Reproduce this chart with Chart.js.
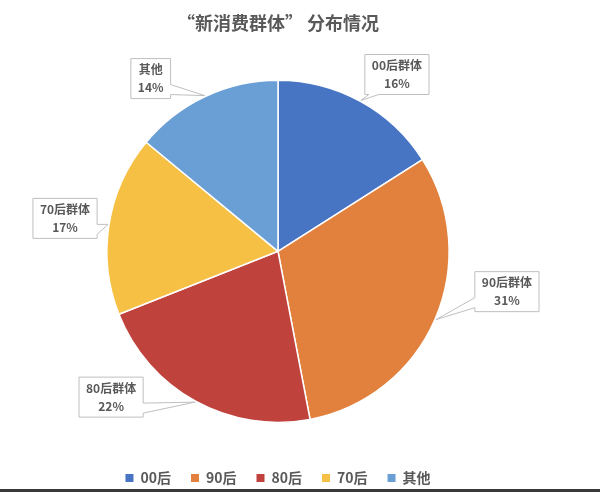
<!DOCTYPE html>
<html>
<head>
<meta charset="utf-8">
<script src="https://cdn.jsdelivr.net/npm/chart.js@4.4.1/dist/chart.umd.min.js"></script>
<style>
  html, body { margin: 0; padding: 0; background: #fff; overflow: hidden; }
  #wrap { position: absolute; left: 0; top: 0; width: 556px; height: 495px; }
  #bottomLine { position: fixed; left: 0; right: 0; bottom: 0; height: 3px; background: #3a3a3a; }
</style>
</head>
<body>
<div id="wrap"><canvas id="pieChart"></canvas></div>
<div id="bottomLine"></div>
<script>
// data
const categories = ['00后', '90后', '80后', '70后', '其他'];
const calloutNames = ['00后群体', '90后群体', '80后群体', '70后群体', '其他'];
const shares = [16, 31, 22, 17, 14];

const sliceColors = ['#4874C4', '#E2803D', '#C0423C', '#F5C043', '#6A9FD6'];
// where each callout box sits, relative to the slice's edge point
const calloutOffsets = [[36, -26], [71, -28], [-84, -5], [-43, -6], [-54, -17]];
const fontFamily = '"Noto Sans CJK SC", "Noto Sans", sans-serif';
const textGray = '#595959';

function calloutPath(ctx, l, t, w, h, px, py) {
    const r = l + w, b = t + h;
    const over = { left: l - px, right: px - r, top: t - py, bottom: py - b };
    let side = 'left';
    for (const k in over) {
        if (over[k] > over[side]) side = k;
    }
    const nearEnd = (a, lo, hi) => a > (lo + hi) / 2 ? [hi - 14, hi - 4] : [lo + 4, lo + 14];
    ctx.beginPath();
    ctx.moveTo(l, t);
    if (side === 'top') {
        const [a1, a2] = nearEnd(px, l, r);
        ctx.lineTo(a1, t); ctx.lineTo(px, py); ctx.lineTo(a2, t);
    }
    ctx.lineTo(r, t);
    if (side === 'right') {
        const [a1, a2] = nearEnd(py, t, b);
        ctx.lineTo(r, a1); ctx.lineTo(px, py); ctx.lineTo(r, a2);
    }
    ctx.lineTo(r, b);
    if (side === 'bottom') {
        const [a1, a2] = nearEnd(px, l, r);
        ctx.lineTo(a2, b); ctx.lineTo(px, py); ctx.lineTo(a1, b);
    }
    ctx.lineTo(l, b);
    if (side === 'left') {
        const [a1, a2] = nearEnd(py, t, b);
        ctx.lineTo(l, a2); ctx.lineTo(px, py); ctx.lineTo(l, a1);
    }
    ctx.closePath();
}

const calloutPlugin = {
    id: 'callouts',
    afterDatasetsDraw(chart) {
        const ctx = chart.ctx;
        const meta = chart.getDatasetMeta(0);
        const values = chart.data.datasets[0].data;
        const total = values.reduce((a, b) => a + b, 0);
        ctx.save();
        ctx.font = 'bold 12px ' + fontFamily;
        meta.data.forEach((arc, i) => {
            const p = arc.getProps(['x', 'y', 'startAngle', 'endAngle', 'outerRadius'], true);
            const mid = (p.startAngle + p.endAngle) / 2;
            const px = p.x + Math.cos(mid) * (p.outerRadius + 1);
            const py = p.y + Math.sin(mid) * (p.outerRadius + 1);
            const cx = px + calloutOffsets[i][0];
            const cy = py + calloutOffsets[i][1];
            const line1 = calloutNames[i];
            const line2 = Math.round(values[i] / total * 100) + '%';
            const w = Math.max(ctx.measureText(line1).width, ctx.measureText(line2).width) + 14;
            const h = 40;
            calloutPath(ctx, cx - w / 2, cy - h / 2, w, h, px, py);
            ctx.fillStyle = '#fff';
            ctx.fill();
            ctx.strokeStyle = '#BFBFBF';
            ctx.lineWidth = 1;
            ctx.stroke();
            ctx.fillStyle = textGray;
            ctx.textAlign = 'center';
            ctx.textBaseline = 'middle';
            ctx.fillText(line1, cx, cy - 9);
            ctx.fillText(line2, cx, cy + 9);
        });
        ctx.restore();
    }
};

var ctx = document.getElementById('pieChart').getContext('2d');
var pieChart = new Chart(ctx, {
    type: 'pie',
    data: {
        labels: categories,
        datasets: [{
            data: shares,
            backgroundColor: sliceColors,
            borderColor: '#fff',
            borderWidth: 1.5,
            radius: '86%'
        }]
    },
    options: {
        responsive: true,
        maintainAspectRatio: false,
        animation: false,
        layout: { padding: 0 },
        plugins: {
            title: {
                display: true,
                text: '“新消费群体” 分布情况',
                color: textGray,
                font: { family: fontFamily, size: 18, weight: 'bold', lineHeight: 1.2 },
                padding: { top: 12, bottom: 18 }
            },
            legend: {
                position: 'bottom',
                labels: {
                    color: textGray,
                    font: { family: fontFamily, size: 14, weight: 'bold' },
                    boxWidth: 8,
                    boxHeight: 8,
                    padding: 20,
                    generateLabels: function(chart) {
                        const items = Chart.overrides.pie.plugins.legend.labels.generateLabels(chart);
                        items.forEach(it => { it.lineWidth = 0; it.strokeStyle = 'rgba(0,0,0,0)'; });
                        return items;
                    }
                }
            },
            tooltip: { enabled: false }
        }
    },
    plugins: [calloutPlugin]
});
</script>
</body>
</html>
